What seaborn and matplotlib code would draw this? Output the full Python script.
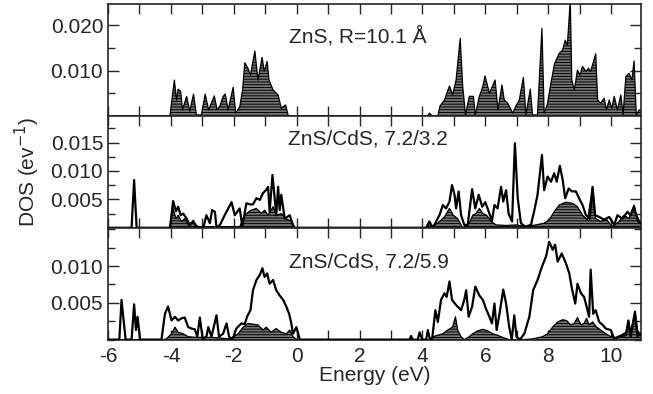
import matplotlib
matplotlib.use("Agg")
from matplotlib import pyplot as plt
import matplotlib.ticker as mtick
import seaborn as sns

# ZnS, R=10.1 A  (shaded DOS only)
top_fill_e = [-6.0, -4.03, -3.89, -3.82, -3.77, -3.69, -3.63, -3.50, -3.40, -3.28, -3.19, -3.03, -2.91,
              -2.80, -2.62, -2.53, -2.44, -2.34, -2.27, -2.18, -2.02, -1.94, -1.81, -1.72, -1.65, -1.55,
              -1.47, -1.33, -1.23, -1.10, -1.03, -0.94, -0.88, -0.75, -0.59, -0.49, -0.35, -0.27,
              4.17, 4.22, 4.31, 4.49, 4.56, 4.70, 4.86, 4.96, 5.07, 5.20, 5.28, 5.37, 5.49, 5.62, 5.68,
              5.81, 5.92, 5.99, 6.13, 6.31, 6.40, 6.53, 6.60, 6.71, 6.87, 6.97, 7.08, 7.21, 7.29, 7.43,
              7.50, 7.66, 7.80, 7.87, 7.97, 8.08, 8.20, 8.35, 8.46, 8.54, 8.61, 8.70, 8.75, 8.83, 8.93,
              9.01, 9.09, 9.20, 9.28, 9.35, 9.51, 9.57, 9.67, 9.78, 9.85, 9.94, 10.02, 10.10, 10.20,
              10.31, 10.38, 10.47, 10.57, 10.66, 10.73, 10.80, 10.89, 11.0]
top_fill_dos = [0, 0, 0.0079, 0.0035, 0.0059, 0.0054, 0.0013, 0.0043, 0.0010, 0.0048, 0.0002, 0.0002, 0.0048,
                0.0013, 0.0044, 0.0013, 0.0022, 0.0043, 0.0048, 0.0013, 0.0063, 0.0006, 0.0020, 0.0057, 0.0117, 0.0105,
                0.0090, 0.0143, 0.0079, 0.0129, 0.0098, 0.0120, 0.0079, 0.0057, 0.0046, 0.0017, 0.0024, 0,
                0, 0.0006, 0, 0, 0.0022, 0.0035, 0.0066, 0.0046, 0.0079, 0.0171, 0.0065, 0.0002, 0.0043, 0.0043, 0.0002,
                0.0043, 0.0065, 0.0088, 0.0050, 0.0079, 0.0013, 0.0068, 0.0035, 0.0028, 0.0006, 0.0021, 0.0035, 0.0085, 0.0002, 0.0059,
                0.0002, 0.0002, 0.0193, 0.0006, 0.0025, 0.0070, 0.0115, 0.0138, 0.0145, 0.0167, 0.0156, 0.0255, 0.0079, 0.0057, 0.0101,
                0.0090, 0.0109, 0.0098, 0.0105, 0.0098, 0.0137, 0.0035, 0.0028, 0.0039, 0.0013, 0.0035, 0.0017, 0.0043, 0.0013,
                0.0046, 0.0002, 0.0087, 0.0094, 0.0079, 0.0121, 0.0002, 0.0013, 0.0013]

# ZnS/CdS, 7.2/3.2
mid_line_e = [-6.0, -5.25, -5.17, -5.09, -4.03, -3.93, -3.84, -3.77, -3.69, -3.61, -3.50, -3.40, -3.29, -3.19,
              -2.97, -2.87, -2.76, -2.69, -2.60, -2.55, -2.44, -2.29, -2.07, -1.97, -1.81, -1.73, -1.60, -1.47,
              -1.39, -1.28, -1.17, -1.07, -0.98, -0.91, -0.86, -0.77, -0.70, -0.65, -0.59, -0.54, -0.49, -0.38,
              -0.22, -0.12, -0.06,
              4.12, 4.22, 4.33, 4.54, 4.65, 4.75, 4.86, 4.94, 5.02, 5.07, 5.15, 5.23, 5.33, 5.44, 5.58, 5.68,
              5.79, 5.90, 6.00, 6.11, 6.21, 6.29, 6.39, 6.50, 6.57, 6.66, 6.74, 6.85, 6.94, 7.03, 7.13, 7.27,
              7.45, 7.56, 7.66, 7.80, 7.87, 7.98, 8.09, 8.19, 8.27, 8.37, 8.46, 8.54, 8.65, 8.75, 8.88, 8.98,
              9.09, 9.20, 9.32, 9.41, 9.49, 9.62, 9.78, 9.94, 10.10, 10.20, 10.36, 10.52, 10.62, 10.73, 10.80,
              10.89, 11.0]
mid_line_dos = [0, 0, 0.0084, 0, 0, 0.0047, 0.0029, 0.0037, 0.0022, 0.0025, 0.0016, 0.0005, 0.0012, 0.0002,
                0, 0.0022, 0.0008, 0.0031, 0.0028, 0, 0.0005, 0.0022, 0.0045, 0.0022, 0.0034, 0.0002, 0.0043, 0.0041,
                0.0041, 0.0052, 0.0049, 0.0061, 0.0066, 0.0072, 0.0028, 0.0093, 0.0052, 0.0022, 0.0072, 0.0031, 0.0058, 0.0016,
                0.0022, 0.0005, 0,
                0, 0.0011, 0, 0.0022, 0.0040, 0.0034, 0.0046, 0.0075, 0.0058, 0.0034, 0.0064, 0.0022, 0.0005, 0.0005, 0.0068, 0.0034,
                0.0058, 0.0037, 0.0045, 0.0028, 0.0012, 0.0040, 0.0034, 0.0072, 0.0046, 0.0066, 0.0025, 0.0011, 0.0149, 0.0052, 0.0008, 0.0002,
                0.0005, 0.0031, 0.0058, 0.0128, 0.0066, 0.0090, 0.0081, 0.0096, 0.0081, 0.0109, 0.0084, 0.0052, 0.0069, 0.0064, 0.0064, 0.0052,
                0.0040, 0.0022, 0.0016, 0.0072, 0.0022, 0.0019, 0.0014, 0.0019, 0.0005, 0.0022, 0.0016, 0.0028, 0.0022, 0.0037, 0.0022,
                0.0011, 0.0005]
mid_fill_e = [-6.0, -4.03, -3.93, -3.84, -3.77, -3.66, -3.56, -3.45, -3.29, -3.13, -2.87, -1.81, -1.70, -1.60,
              -1.44, -1.28, -1.12, -1.02, -0.91, -0.75, -0.65, -0.49, -0.33, -0.17, -0.06,
              4.12, 4.22, 4.33, 4.54, 4.70, 4.86, 4.98, 5.12, 5.28, 5.49, 5.60, 5.70, 5.81, 5.92, 6.04, 6.18,
              6.34, 6.66, 6.97, 7.29, 7.61, 7.87, 8.03, 8.19, 8.35, 8.56, 8.77, 8.93, 9.09, 9.25, 9.41, 9.51,
              9.67, 9.83, 10.04, 10.25, 10.41, 10.57, 10.73, 10.84, 11.0]
mid_fill_dos = [0, 0, 0.0034, 0.0016, 0.0022, 0.0011, 0.0016, 0.0005, 0.0008, 0.0002, 0.0002, 0.0002, 0.0016, 0.0025,
                0.0031, 0.0034, 0.0025, 0.0031, 0.0022, 0.0037, 0.0022, 0.0025, 0.0016, 0.0011, 0,
                0, 0.0008, 0.0002, 0.0011, 0.0019, 0.0034, 0.0022, 0.0016, 0, 0.0008, 0.0022, 0.0025, 0.0034, 0.0025, 0.0022, 0.0011,
                0.0005, 0.0004, 0.0005, 0.0002, 0.0005, 0.0008, 0.0014, 0.0028, 0.0040, 0.0045, 0.0043, 0.0037, 0.0022, 0.0014, 0.0072, 0.0016,
                0.0011, 0.0016, 0.0002, 0.0011, 0.0022, 0.0016, 0.0040, 0.0011, 0.0005]

# ZnS/CdS, 7.2/5.9
bot_line_e = [-6.0, -5.64, -5.57, -5.44, -5.25, -5.17, -5.11, -5.06, -4.98, -4.30, -4.19, -4.09, -3.98, -3.87,
              -3.77, -3.66, -3.56, -3.45, -3.34, -3.24, -3.16, -3.08, -2.99, -2.87, -2.81, -2.71, -2.55, -2.47,
              -2.34, -2.23, -2.15, -2.04, -1.92, -1.76, -1.65, -1.58, -1.47, -1.39, -1.28, -1.17, -1.09, -1.02,
              -0.94, -0.86, -0.75, -0.65, -0.54, -0.43, -0.33, -0.24, -0.17, -0.12, -0.01, 0.10,
              3.59, 3.64, 3.69, 3.85, 3.91, 3.99, 4.12, 4.17, 4.24, 4.31, 4.41, 4.49, 4.59, 4.70, 4.77, 4.86,
              4.94, 5.07, 5.23, 5.33, 5.39, 5.47, 5.58, 5.68, 5.81, 5.92, 6.02, 6.13, 6.21, 6.29, 6.36, 6.45,
              6.57, 6.66, 6.76, 6.84, 6.92, 6.99, 7.10, 7.24, 7.40, 7.52, 7.66, 7.80, 7.93, 8.03, 8.14, 8.22,
              8.30, 8.43, 8.56, 8.67, 8.75, 8.86, 8.93, 9.04, 9.14, 9.22, 9.30, 9.35, 9.43, 9.51, 9.62, 9.73,
              9.83, 9.99, 10.10, 10.25, 10.47, 10.55, 10.62, 10.76, 10.84, 10.91, 11.0]
bot_line_dos = [0, 0, 0.0054, 0, 0, 0.0048, 0.0013, 0.0031, 0, 0, 0.0035, 0.0045, 0.0026, 0.0031,
                0.0026, 0.0029, 0.0030, 0.0017, 0.0015, 0.0014, 0.0004, 0.0030, 0.0001, 0.0004, 0.0017, 0.0004, 0.0033, 0.0004,
                0.0008, 0.0022, 0.0004, 0, 0.0015, 0.0022, 0.0021, 0.0031, 0.0040, 0.0067, 0.0081, 0.0088, 0.0097, 0.0085,
                0.0090, 0.0076, 0.0081, 0.0067, 0.0060, 0.0054, 0.0045, 0.0035, 0.0022, 0.0008, 0.0017, 0,
                0, 0.0005, 0, 0, 0.0010, 0, 0, 0.0013, 0, 0.0001, 0.0040, 0.0024, 0.0054, 0.0063, 0.0058, 0.0079,
                0.0054, 0.0047, 0.0040, 0.0054, 0.0067, 0.0031, 0.0045, 0.0072, 0.0060, 0.0054, 0.0042, 0.0031, 0.0022, 0.0049, 0.0013, 0.0035,
                0.0068, 0.0049, 0.0017, 0, 0.0033, 0.0004, 0, 0.0008, 0.0031, 0.0067, 0.0081, 0.0099, 0.0113, 0.0133, 0.0122, 0.0129,
                0.0106, 0.0117, 0.0104, 0.0090, 0.0070, 0.0049, 0.0076, 0.0063, 0.0058, 0.0045, 0.0031, 0.0095, 0.0035, 0.0040, 0.0024, 0.0020,
                0.0015, 0.0013, 0.0001, 0.0004, 0.0006, 0.0026, 0.0004, 0.0038, 0.0004, 0.0008, 0.0005]
bot_fill_e = [-6.0, -4.24, -4.14, -3.98, -3.87, -3.77, -3.61, -3.45, -3.19, -2.66, -2.13, -1.86, -1.70, -1.55,
              -1.39, -1.23, -1.07, -0.97, -0.81, -0.65, -0.49, -0.33, -0.22, -0.12, 0.01,
              4.22, 4.33, 4.49, 4.65, 4.80, 4.96, 5.05, 5.12, 5.23, 5.33, 5.49, 5.60, 5.76, 5.92, 6.07, 6.23,
              6.39, 6.55, 6.76, 7.19, 7.50, 7.82, 7.98, 8.14, 8.30, 8.46, 8.58, 8.72, 8.83, 8.93, 9.04, 9.14,
              9.22, 9.30, 9.41, 9.54, 9.67, 9.83, 9.99, 10.15, 10.31, 10.47, 10.55, 10.62, 10.76, 10.84, 10.91, 11.0]
bot_fill_dos = [0, 0, 0.0001, 0.0008, 0.0017, 0.0010, 0.0008, 0.0004, 0.0003, 0.0003, 0.0001, 0.0008, 0.0017, 0.0022,
                0.0021, 0.0020, 0.0013, 0.0017, 0.0010, 0.0015, 0.0010, 0.0008, 0.0013, 0.0004, 0,
                0, 0.0004, 0.0006, 0.0008, 0.0013, 0.0017, 0.0031, 0.0013, 0.0004, 0, 0.0004, 0.0008, 0.0012, 0.0014, 0.0012, 0.0008,
                0.0006, 0.0003, 0, 0, 0.0001, 0.0004, 0.0008, 0.0017, 0.0024, 0.0027, 0.0026, 0.0020, 0.0022, 0.0030, 0.0020, 0.0022,
                0.0029, 0.0020, 0.0024, 0.0017, 0.0013, 0.0008, 0.0004, 0.0003, 0.0006, 0.0010, 0.0026, 0.0010, 0.0038, 0.0013, 0.0008, 0.0005]

labels = ["ZnS, R=10.1 Å", "ZnS/CdS, 7.2/3.2", "ZnS/CdS, 7.2/5.9"]

sns.set_style("ticks")
plt.rcParams['font.family'] = ['Liberation Sans', 'DejaVu Sans']
plt.rcParams['font.size'] = 15
plt.rcParams['axes.unicode_minus'] = False
plt.rcParams['hatch.linewidth'] = 0.7
plt.rcParams['axes.linewidth'] = 1.2

fig, axes = plt.subplots(3, 1, sharex=True, figsize=(6.53, 3.94), dpi=100)
fig.subplots_adjust(left=0.1654, right=0.9816, top=0.99, bottom=0.138, hspace=0)
ax1, ax2, ax3 = axes


def shade(ax, e, d):
    ax.fill_between(e, d, 0, facecolor="#747474", edgecolor="k", hatch="------", linewidth=0.9, zorder=2)


shade(ax1, top_fill_e, top_fill_dos)
shade(ax2, mid_fill_e, mid_fill_dos)
sns.lineplot(x=mid_line_e, y=mid_line_dos, ax=ax2, color="k", lw=1.6, estimator=None, sort=False, zorder=3)
shade(ax3, bot_fill_e, bot_fill_dos)
sns.lineplot(x=bot_line_e, y=bot_line_dos, ax=ax3, color="k", lw=1.6, estimator=None, sort=False, zorder=3)

ax1.set_ylim(0, 0.0247)
ax1.set_yticks([0.010, 0.020])
ax1.yaxis.set_minor_locator(mtick.MultipleLocator(0.005))
ax2.set_ylim(0, 0.0197)
ax2.set_yticks([0.005, 0.010, 0.015])
ax2.yaxis.set_minor_locator(mtick.MultipleLocator(0.0025))
ax3.set_ylim(0, 0.0152)
ax3.set_yticks([0.005, 0.010])
ax3.yaxis.set_minor_locator(mtick.MultipleLocator(0.0025))

ax3.set_xlim(-6, 10.95)
ax3.set_xticks([-6, -4, -2, 0, 2, 4, 6, 8, 10])
ax3.xaxis.set_minor_locator(mtick.MultipleLocator(1))

fmt = mtick.FormatStrFormatter('%.3f')
for ax in axes:
    ax.yaxis.set_major_formatter(fmt)
    ax.tick_params(which="both", direction="in", top=True, right=True, width=1, labelsize=15)
    ax.tick_params(which="major", length=8)
    ax.tick_params(which="minor", length=5)
    ax.tick_params(axis="x", which="both", length=7, pad=5)
    ax.set_ylabel("")
    for s in ax.spines.values():
        s.set_visible(True)

ax1.text(1.95, 0.0176, labels[0], ha="center", va="center", fontsize=15)
ax2.text(2.25, 0.0157, labels[1], ha="center", va="center", fontsize=15)
ax3.text(2.29, 0.0105, labels[2], ha="center", va="center", fontsize=15)

ax2.set_ylabel("DOS (ev$^{-1}$)", fontsize=15, labelpad=6)
ax3.set_xlabel("Energy (eV)", fontsize=15, labelpad=0)

fig.savefig("out.png", dpi=100)
